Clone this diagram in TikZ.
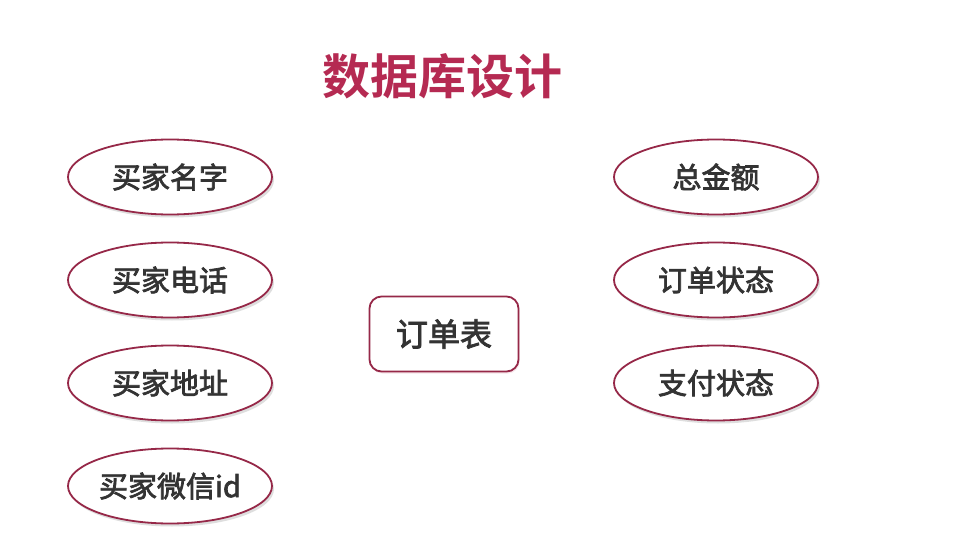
\documentclass[tikz,border=0pt]{standalone}
\usepackage{fontspec}
\newfontfamily\cjk{Noto Sans CJK SC}[RawFeature={embolden=2.5}]
\newfontfamily\cjktitle{Noto Sans CJK SC Bold}
\usetikzlibrary{shapes.geometric,shadows}
\definecolor{titlered}{HTML}{B52A52}
\definecolor{edge}{HTML}{962848}
\definecolor{txt}{HTML}{333333}
\tikzset{
  field/.style={ellipse, draw=edge, line width=1.8pt, fill=white,
    minimum width=204pt, minimum height=75pt, inner sep=0pt,
    font=\cjk\fontsize{29}{33}\selectfont, text=txt,
    drop shadow={shadow xshift=2pt, shadow yshift=-3pt, fill=black!25, opacity=0.5}},
  tablebox/.style={rectangle, rounded corners=12pt, draw=edge, line width=1.8pt, fill=white,
    minimum width=149pt, minimum height=75pt, inner sep=0pt,
    font=\cjk\fontsize{32}{36}\selectfont, text=txt,
    drop shadow={shadow xshift=1pt, shadow yshift=-2pt, fill=titlered!30, opacity=0.4}},
  titletext/.style={font=\cjktitle\fontsize{48}{54}\selectfont, text=titlered}
}
\begin{document}
\begin{tikzpicture}[x=1pt,y=-1pt]
\useasboundingbox[fill=white] (0,0) rectangle (970,551);
\node[titletext] (title) at (442,76) {数据库设计};
\node[field] (n1) at (170,177) {买家名字};
\node[field] (n2) at (170,280) {买家电话};
\node[field] (n3) at (170,383) {买家地址};
\node[field] (n4) at (170,486) {买家微信id};
\node[field] (m1) at (716,177) {总金额};
\node[field] (m2) at (716,280) {订单状态};
\node[field] (m3) at (716,383) {支付状态};
\node[tablebox] (t) at (444,334) {订单表};
\end{tikzpicture}
\end{document}
